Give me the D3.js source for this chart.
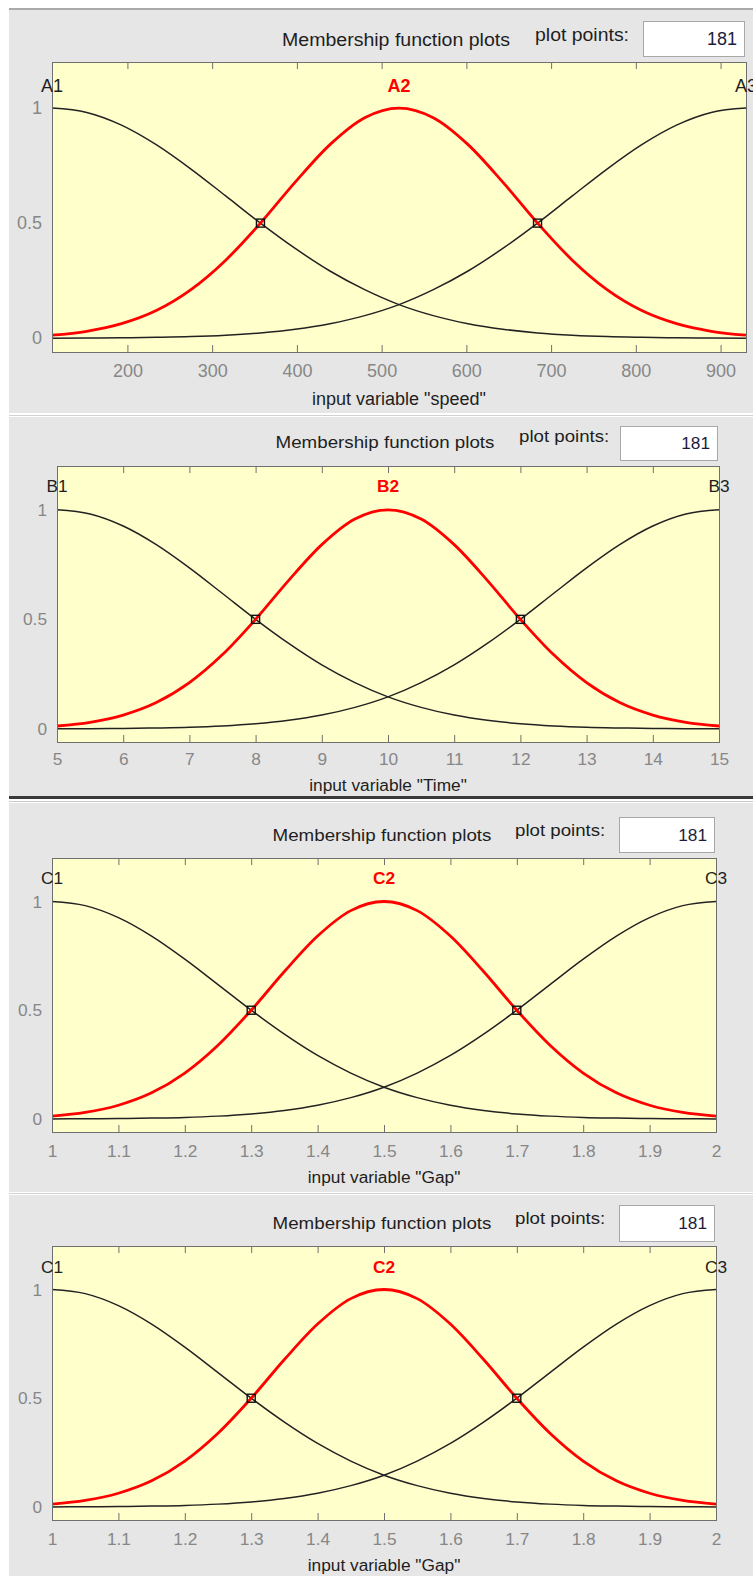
<!DOCTYPE html>
<html>
<head>
<meta charset="utf-8">
<script src="https://cdn.jsdelivr.net/npm/d3@7"></script>
<style>
  html, body { margin: 0; padding: 0; background: #fff; }
  svg text { font-family: "Liberation Sans", Arial, sans-serif; }
</style>
</head>
<body>
<svg id="chart" width="753" height="1576"></svg>
<script>
// ---- data ----
const speedRange = [111, 930];
const timeRange = [5, 15];
const gapRange = [1, 2];

const speedTicks = [200, 300, 400, 500, 600, 700, 800, 900];
const timeTicks = [5, 6, 7, 8, 9, 10, 11, 12, 13, 14, 15];
const gapTicks = [1, 1.1, 1.2, 1.3, 1.4, 1.5, 1.6, 1.7, 1.8, 1.9, 2];
const yTicks = [0, 0.5, 1];

const speedSamples = [111, 152, 193, 234, 275, 316, 357, 398, 439, 480, 520.5,
  561, 602, 643, 684, 725, 766, 807, 848, 889, 930];
const timeSamples = [5, 5.5, 6, 6.5, 7, 7.5, 8, 8.5, 9, 9.5, 10,
  10.5, 11, 11.5, 12, 12.5, 13, 13.5, 14, 14.5, 15];
const gapSamples = [1, 1.05, 1.1, 1.15, 1.2, 1.25, 1.3, 1.35, 1.4, 1.45, 1.5,
  1.55, 1.6, 1.65, 1.7, 1.75, 1.8, 1.85, 1.9, 1.95, 2];

// membership degree at each sample (the four plots share the same shape)
const lowMf = [1, 0.981, 0.926, 0.841, 0.735, 0.618, 0.5, 0.39, 0.292, 0.211, 0.146,
  0.098, 0.063, 0.039, 0.023, 0.013, 0.007, 0.004, 0.002, 0.001, 0];
const midMf = [0.013, 0.03, 0.063, 0.12, 0.211, 0.339, 0.5, 0.678, 0.841, 0.958, 1,
  0.958, 0.841, 0.678, 0.5, 0.339, 0.211, 0.12, 0.063, 0.03, 0.013];
const highMf = [0, 0.001, 0.002, 0.004, 0.007, 0.013, 0.023, 0.039, 0.063, 0.098, 0.146,
  0.211, 0.292, 0.39, 0.5, 0.618, 0.735, 0.841, 0.926, 0.981, 1];

const speedNames = ['A1', 'A2', 'A3'];
const timeNames = ['B1', 'B2', 'B3'];
const gapNames = ['C1', 'C2', 'C3'];

const speedCenters = [111, 520.5, 930];
const timeCenters = [5, 10, 15];
const gapCenters = [1, 1.5, 2];

// the small square handles on the red curve
const speedHandles = [357, 684];
const timeHandles = [8, 12];
const gapHandles = [1.3, 1.7];

const plotPoints = 181;

// ---- layout ----
const PANEL_BG = '#e6e6e6';
const PLOT_BG = '#ffffcc';
const FRAME = '#6f6f6f';
const TICK_TEXT = '#878787';
const DARK = '#1e1e1e';
const RED = '#ff0000';

// k = text scale of each screenshot panel (the lower three are a bit smaller)
const panels = [
  {
    varName: 'speed', range: speedRange, ticks: speedTicks, samples: speedSamples,
    names: speedNames, centers: speedCenters, handles: speedHandles, k: 1,
    bg: [10, 413], title: [396, 46], pp: [535, 41], box: [643, 21, 101, 35],
    plot: { x0: 52, x1: 746, y0: 62, y1: 352 }, tickY: 376, xlabelY: 405, nameY: 92,
  },
  {
    varName: 'Time', range: timeRange, ticks: timeTicks, samples: timeSamples,
    names: timeNames, centers: timeCenters, handles: timeHandles, k: 0.96,
    bg: [417, 796], title: [385, 448], pp: [519, 442], box: [620, 426, 97, 34],
    plot: { x0: 57, x1: 719, y0: 466, y1: 742 }, tickY: 765, xlabelY: 791, nameY: 492,
  },
  {
    varName: 'Gap', range: gapRange, ticks: gapTicks, samples: gapSamples,
    names: gapNames, centers: gapCenters, handles: gapHandles, k: 0.96,
    bg: [803, 1192], title: [382, 841], pp: [515, 836], box: [619, 817, 95, 35],
    plot: { x0: 52, x1: 716, y0: 858, y1: 1132 }, tickY: 1157, xlabelY: 1183, nameY: 884,
  },
  {
    varName: 'Gap', range: gapRange, ticks: gapTicks, samples: gapSamples,
    names: gapNames, centers: gapCenters, handles: gapHandles, k: 0.96,
    bg: [1195, 1576], title: [382, 1229], pp: [515, 1224], box: [619, 1205, 95, 36],
    plot: { x0: 52, x1: 716, y0: 1246, y1: 1520 }, tickY: 1545, xlabelY: 1571, nameY: 1273,
  },
];

const svg = d3.select('#chart');

// window chrome: top rule and separators
svg.append('rect').attr('x', 9).attr('y', 8).attr('width', 744).attr('height', 2).attr('fill', '#a9a9a9');
svg.append('rect').attr('x', 9).attr('y', 415).attr('width', 744).attr('height', 1).attr('fill', '#d2d2d2');
svg.append('rect').attr('x', 9).attr('y', 796).attr('width', 744).attr('height', 3).attr('fill', '#3a3a3a');
svg.append('rect').attr('x', 9).attr('y', 801).attr('width', 744).attr('height', 1).attr('fill', '#c8c8c8');
svg.append('rect').attr('x', 9).attr('y', 1193).attr('width', 744).attr('height', 1).attr('fill', '#d2d2d2');

panels.forEach((p, pi) => {
  const g = svg.append('g').attr('class', 'panel');
  const fs = s => `${(s * p.k).toFixed(1)}px`;

  g.append('rect')
    .attr('x', 9).attr('y', p.bg[0])
    .attr('width', 744).attr('height', p.bg[1] - p.bg[0])
    .attr('fill', PANEL_BG);

  g.append('text')
    .attr('x', p.title[0]).attr('y', p.title[1])
    .attr('text-anchor', 'middle')
    .attr('textLength', 228 * p.k).attr('lengthAdjust', 'spacingAndGlyphs')
    .style('font-size', fs(18)).attr('fill', DARK)
    .text('Membership function plots');

  g.append('text')
    .attr('x', p.pp[0]).attr('y', p.pp[1])
    .attr('textLength', 94 * p.k).attr('lengthAdjust', 'spacingAndGlyphs')
    .style('font-size', fs(18)).attr('fill', DARK)
    .text('plot points:');

  g.append('rect')
    .attr('x', p.box[0] + 0.5).attr('y', p.box[1] + 0.5)
    .attr('width', p.box[2]).attr('height', p.box[3])
    .attr('fill', '#fff').attr('stroke', '#a8a8a8');

  g.append('text')
    .attr('x', p.box[0] + p.box[2] - 7).attr('y', p.box[1] + p.box[3] / 2 + 6)
    .attr('text-anchor', 'end')
    .style('font-size', fs(18)).attr('fill', '#1c1c3a')
    .text(plotPoints);

  const x = d3.scaleLinear().domain(p.range).range([p.plot.x0, p.plot.x1]);
  const y = d3.scaleLinear().domain([-0.06, 1.2]).range([p.plot.y1, p.plot.y0]);

  g.append('rect')
    .attr('x', p.plot.x0).attr('y', p.plot.y0)
    .attr('width', p.plot.x1 - p.plot.x0).attr('height', p.plot.y1 - p.plot.y0)
    .attr('fill', PLOT_BG);

  // bottom axis with ticks pointing in
  const xb = g.append('g')
    .attr('transform', `translate(0,${p.plot.y1})`)
    .call(d3.axisBottom(x).tickValues(p.ticks).tickFormat(d3.format('~g'))
      .tickSizeInner(-7).tickSizeOuter(0).tickPadding(p.tickY - p.plot.y1 - 12));
  xb.select('.domain').remove();
  xb.selectAll('line').attr('stroke', FRAME);
  xb.selectAll('text').style('font-size', fs(18)).attr('fill', TICK_TEXT)
    .attr('font-family', '"Liberation Sans", Arial, sans-serif');

  const xt = g.append('g')
    .attr('transform', `translate(0,${p.plot.y0})`)
    .call(d3.axisTop(x).tickValues(p.ticks).tickFormat('').tickSizeInner(-7).tickSizeOuter(0));
  xt.select('.domain').remove();
  xt.selectAll('line').attr('stroke', FRAME);

  const yl = g.append('g')
    .attr('transform', `translate(${p.plot.x0},0)`)
    .call(d3.axisLeft(y).tickValues(yTicks).tickFormat(d3.format('~g'))
      .tickSizeInner(0).tickSizeOuter(0).tickPadding(10));
  yl.select('.domain').remove();
  yl.selectAll('text').style('font-size', fs(18)).attr('fill', TICK_TEXT)
    .attr('font-family', '"Liberation Sans", Arial, sans-serif');

  const clipId = `clip${pi}`;
  g.append('clipPath').attr('id', clipId)
    .append('rect')
    .attr('x', p.plot.x0).attr('y', p.plot.y0)
    .attr('width', p.plot.x1 - p.plot.x0).attr('height', p.plot.y1 - p.plot.y0);

  const line = d3.line()
    .x(d => x(d[0]))
    .y(d => y(d[1]))
    .curve(d3.curveMonotoneX);

  const series = [lowMf, midMf, highMf].map(vals => p.samples.map((s, i) => [s, vals[i]]));
  const curves = g.append('g').attr('clip-path', `url(#${clipId})`);

  curves.selectAll('path.black')
    .data([series[0], series[2]])
    .enter().append('path')
    .attr('d', line)
    .attr('fill', 'none')
    .attr('stroke', '#222')
    .attr('stroke-width', 1.5);

  curves.append('path')
    .datum(series[1])
    .attr('d', line)
    .attr('fill', 'none')
    .attr('stroke', RED)
    .attr('stroke-width', 2.8);

  // handles on the selected (red) function
  g.selectAll('rect.handle')
    .data(p.handles)
    .enter().append('rect')
    .attr('class', 'handle')
    .attr('x', d => x(d) - 4).attr('y', y(0.5) - 4)
    .attr('width', 8).attr('height', 8)
    .attr('fill', 'none').attr('stroke', '#111').attr('stroke-width', 1.4);

  // frame
  g.append('rect')
    .attr('x', p.plot.x0 + 0.5).attr('y', p.plot.y0 + 0.5)
    .attr('width', p.plot.x1 - p.plot.x0).attr('height', p.plot.y1 - p.plot.y0)
    .attr('fill', 'none').attr('stroke', FRAME);

  // function names
  g.selectAll('text.mfname')
    .data(p.names)
    .enter().append('text')
    .attr('class', 'mfname')
    .attr('x', (d, i) => x(p.centers[i]))
    .attr('y', p.nameY)
    .attr('text-anchor', 'middle')
    .style('font-size', fs(18))
    .style('font-weight', (d, i) => i === 1 ? '700' : '400')
    .attr('fill', (d, i) => i === 1 ? RED : DARK)
    .text(d => d);

  g.append('text')
    .attr('x', (p.plot.x0 + p.plot.x1) / 2).attr('y', p.xlabelY)
    .attr('text-anchor', 'middle')
    .style('font-size', fs(18)).attr('fill', DARK)
    .text(`input variable "${p.varName}"`);
});
</script>
</body>
</html>
